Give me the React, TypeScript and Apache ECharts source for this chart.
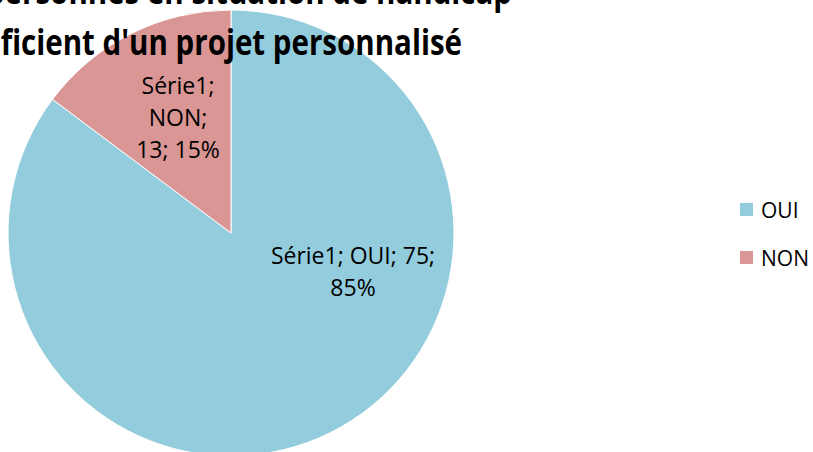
import React, { useEffect, useRef } from "react";
import * as echarts from "echarts";

const seriesName = "Série1";
const categories = ["OUI", "NON"];
const values = [75, 13];
const colors = ["#93CDDD", "#D99694"];
const titleLines = [
  "Les personnes en situation de handicap",
  "bénéficient d'un projet personnalisé",
];

const labelFont = "'Open Sans', 'Liberation Sans', sans-serif";
const titleFont = "'Open Sans', 'Liberation Sans', sans-serif";

export default function App() {
  const ref = useRef<HTMLDivElement>(null);
  useEffect(() => {
    document.body.style.margin = "0";
    const chart = echarts.init(ref.current!, null, { renderer: "svg" });
    const labelPos = [
      { x: 353, y: 271 },
      { x: 178, y: 117 },
    ];
    chart.setOption({
      animation: false,
      backgroundColor: "#ffffff",
      color: colors,
      legend: {
        orient: "vertical",
        left: 733,
        top: 194,
        icon: "rect",
        itemWidth: 15,
        itemHeight: 15,
        itemGap: 27,
        data: categories,
        textStyle: { fontSize: 21, color: "#000", fontFamily: labelFont, padding: [0, 0, 0, 2] },
      },
      graphic: [
        {
          type: "text",
          x: 512,
          y: 8,
          scaleX: 0.82,
          z: 100,
          style: {
            text: titleLines[0],
            textAlign: "right",
            textVerticalAlign: "bottom",
            font: `bold 36px ${titleFont}`,
            fill: "#000",
          },
        },
        {
          type: "text",
          x: 462,
          y: 59,
          scaleX: 0.82,
          z: 100,
          style: {
            text: titleLines[1],
            textAlign: "right",
            textVerticalAlign: "bottom",
            font: `bold 36px ${titleFont}`,
            fill: "#000",
          },
        },
      ],
      series: [
        {
          name: seriesName,
          type: "pie",
          center: [231, 233],
          radius: 223,
          startAngle: 90,
          clockwise: true,
          avoidLabelOverlap: false,
          itemStyle: { borderColor: "#ffffff", borderWidth: 1 },
          label: {
            show: true,
            position: "inside",
            fontSize: 23,
            lineHeight: 32,
            color: "#000",
            fontFamily: labelFont,
            align: "center",
            formatter: (p: any) => {
              const pct = Math.round(p.percent);
              return p.percent < 50
                ? `${p.seriesName};\n${p.name};\n${p.value}; ${pct}%`
                : `${p.seriesName}; ${p.name}; ${p.value};\n${pct}%`;
            },
          },
          labelLine: { show: false },
          labelLayout: (params: any) => ({
            x: labelPos[params.dataIndex].x,
            y: labelPos[params.dataIndex].y,
            align: "center",
            verticalAlign: "middle",
          }),
          emphasis: { disabled: true },
          data: categories.map((c, i) => ({ name: c, value: values[i] })),
        },
      ],
    });
    return () => chart.dispose();
  }, []);
  return <div ref={ref} style={{ width: 813, height: 452 }} />;
}
